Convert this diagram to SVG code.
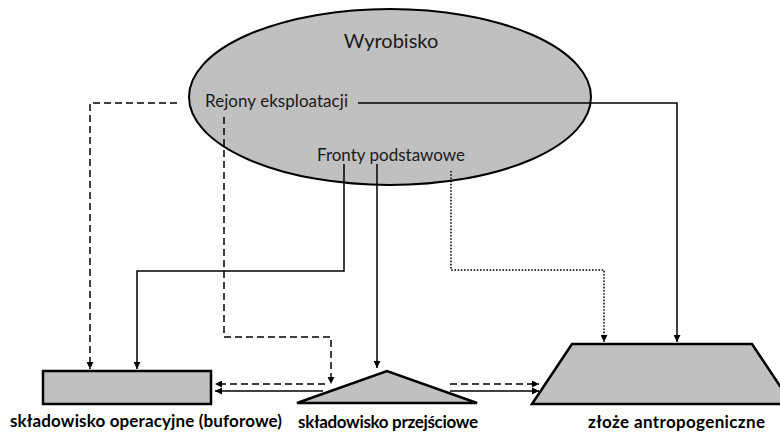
<svg xmlns="http://www.w3.org/2000/svg" width="780" height="432" viewBox="0 0 780 432">
  <style>
    .shape { fill: #c0c0c0; stroke: #000; stroke-width: 2.5; stroke-linejoin: miter; }
    .label { font-family: Lato, "Open Sans", "Liberation Sans", sans-serif; fill: #1a1a1a; }
    .inner { font-size: 17px; }
    .caption { font-size: 17px; font-weight: bold; fill: #000; }
    .conn { fill: none; stroke: #000; stroke-width: 1.5; }
    .dash { stroke-dasharray: 7 4; }
    .dot { stroke-dasharray: 1.6 1.6; }
  </style>
  <defs>
    <marker id="arrow" viewBox="0 0 10 10" refX="10" refY="5" markerWidth="7" markerHeight="7" markerUnits="userSpaceOnUse" orient="auto">
      <path d="M0,0 L10,5 L0,10 z" fill="#000"/>
    </marker>
  </defs>
  <rect width="780" height="432" fill="#fff"/>

  <!-- Excavation area with its mining regions and base fronts -->
  <g id="wyrobisko">
    <ellipse cx="390" cy="97" rx="201" ry="88" fill="#c0c0c0" stroke="#000" stroke-width="2"/>
    <text class="label" x="391" y="48" text-anchor="middle" font-size="20">Wyrobisko</text>
    <text class="label inner" x="205" y="107" textLength="143">Rejony eksploatacji</text>
    <text class="label inner" x="317" y="161" textLength="148">Fronty podstawowe</text>
  </g>

  <!-- Operational (buffer) stockpile -->
  <g id="skladowisko-operacyjne">
    <rect class="shape" x="43" y="371" width="168" height="33"/>
    <text class="label caption" x="10" y="427" textLength="272">składowisko operacyjne (buforowe)</text>
  </g>

  <!-- Transitional stockpile -->
  <g id="skladowisko-przejsciowe">
    <polygon class="shape" points="297,403 387,371 477,403"/>
    <text class="label caption" x="298" y="428" textLength="180">składowisko przejściowe</text>
  </g>

  <!-- Anthropogenic deposit -->
  <g id="zloze-antropogeniczne">
    <polygon class="shape" points="532,404 572,344 752,344 792,404"/>
    <text class="label caption" x="588" y="428" textLength="177">złoże antropogeniczne</text>
  </g>

  <g id="connectors">
    <!-- from mining regions -->
    <path class="conn" d="M358,103 H677 V342" marker-end="url(#arrow)"/>
    <path class="conn dash" d="M177,103 H90 V369" marker-end="url(#arrow)"/>
    <path class="conn dash" d="M224,117 V337 H331 V384" marker-end="url(#arrow)"/>
    <!-- from base fronts -->
    <path class="conn" d="M344,164 V271 H137 V369" marker-end="url(#arrow)"/>
    <path class="conn" d="M377,164 V368" marker-end="url(#arrow)"/>
    <path class="conn dot" d="M451,171 V270 H604 V342" marker-end="url(#arrow)"/>
    <!-- transfers between stockpiles and the deposit -->
    <path class="conn dash" d="M325,384 H215" marker-end="url(#arrow)"/>
    <path class="conn" d="M323,391 H215" marker-end="url(#arrow)"/>
    <path class="conn dash" d="M450,384 H539" marker-end="url(#arrow)"/>
    <path class="conn" d="M450,391 H539" marker-end="url(#arrow)"/>
  </g>
</svg>
